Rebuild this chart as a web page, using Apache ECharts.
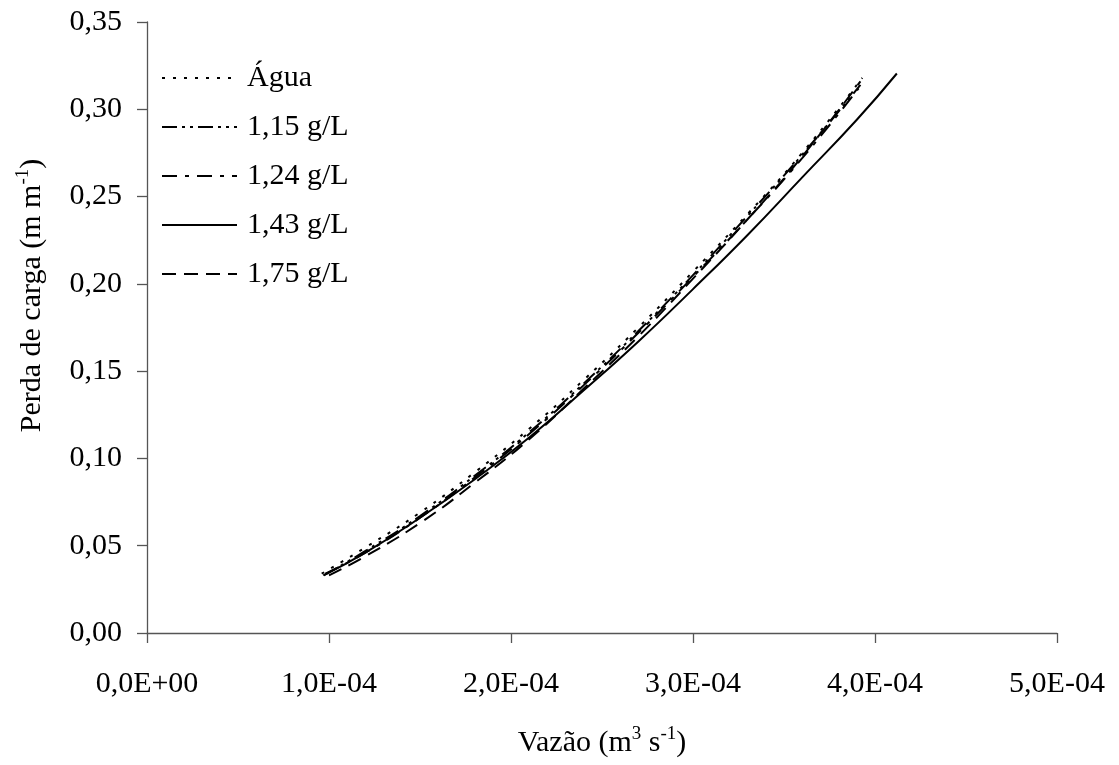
<!DOCTYPE html>
<html>
<head>
<meta charset="utf-8">
<title>Perda de carga x Vazão</title>
<script src="https://cdn.jsdelivr.net/npm/echarts@6/dist/echarts.min.js"></script>
<style>
  html, body { margin: 0; padding: 0; background: #ffffff; }
  #chart { width: 1119px; height: 765px; }
</style>
</head>
<body>
<div id="chart"></div>
<script>
// values: [vazão m3/s, perda de carga m/m]
const agua = [[0.96e-4, 0.034], [1.2e-4, 0.049], [1.5e-4, 0.069], [1.8e-4, 0.092], [2.1e-4, 0.117], [2.4e-4, 0.145], [2.7e-4, 0.175], [3.0e-4, 0.207], [3.3e-4, 0.240], [3.6e-4, 0.275], [3.93e-4, 0.318]];
const c115 = [[0.97e-4, 0.033], [1.2e-4, 0.047], [1.5e-4, 0.067], [1.8e-4, 0.090], [2.1e-4, 0.115], [2.4e-4, 0.143], [2.7e-4, 0.173], [3.0e-4, 0.205], [3.3e-4, 0.239], [3.6e-4, 0.274], [3.92e-4, 0.314]];
const c124 = [[0.98e-4, 0.034], [1.2e-4, 0.046], [1.5e-4, 0.066], [1.8e-4, 0.089], [2.1e-4, 0.114], [2.4e-4, 0.142], [2.7e-4, 0.172], [3.0e-4, 0.204], [3.3e-4, 0.237], [3.6e-4, 0.272], [3.91e-4, 0.312]];
const c143 = [[0.97e-4, 0.033], [1.2e-4, 0.046], [1.5e-4, 0.066], [1.8e-4, 0.088], [2.1e-4, 0.112], [2.4e-4, 0.139], [2.7e-4, 0.167], [3.0e-4, 0.197], [3.3e-4, 0.228], [3.6e-4, 0.261], [3.9e-4, 0.294], [4.12e-4, 0.3205]];
const c175 = [[1.0e-4, 0.033], [1.2e-4, 0.044], [1.5e-4, 0.063], [1.8e-4, 0.086], [2.1e-4, 0.111], [2.4e-4, 0.140], [2.7e-4, 0.170], [3.0e-4, 0.203], [3.3e-4, 0.237], [3.6e-4, 0.273], [3.92e-4, 0.316]];

const seriesNames = ["Água", "1,15 g/L", "1,24 g/L", "1,43 g/L", "1,75 g/L"];
const xTickLabels = ["0,0E+00", "1,0E-04", "2,0E-04", "3,0E-04", "4,0E-04", "5,0E-04"];
const yTickLabels = ["0,00", "0,05", "0,10", "0,15", "0,20", "0,25", "0,30", "0,35"];

const FONT = "'Liberation Serif', 'Times New Roman', serif";
const FONT_SIZE = 30;
const AXIS_COLOR = "#555555";

const dashes = {
  "Água": [3, 8],
  "1,15 g/L": [15, 5, 3, 5, 3, 5],
  "1,24 g/L": [15, 8, 4, 8],
  "1,43 g/L": "solid",
  "1,75 g/L": [14, 8],
};

function makeSeries(name, data) {
  return {
    name: name,
    type: "line",
    data: data,
    smooth: true,
    symbol: "none",
    showSymbol: false,
    lineStyle: { color: "#000000", width: 2, type: dashes[name] },
    itemStyle: { color: "#000000" },
  };
}

const titleRich = {
  t: { fontFamily: FONT, fontSize: FONT_SIZE, color: "#000000", lineHeight: 36 },
  s: { fontFamily: FONT, fontSize: 19, color: "#000000", lineHeight: 36, verticalAlign: "top", padding: [0, 0, 16, 0] },
};

const chart = echarts.init(document.getElementById("chart"));
chart.setOption({
  animation: false,
  backgroundColor: "#ffffff",
  textStyle: { fontFamily: FONT, color: "#000000" },
  grid: { left: 147, right: 62, top: 22, bottom: 127, containLabel: false },
  legend: {
    orient: "vertical",
    left: 161,
    top: 63,
    padding: 0,
    itemWidth: 75,
    itemHeight: 20,
    itemGap: 19,
    data: seriesNames,
    // hide the marker ECharts puts in the middle of line legend icons
    itemStyle: { color: "rgba(0,0,0,0)", borderWidth: 0, opacity: 0 },
    textStyle: { fontFamily: FONT, fontSize: FONT_SIZE, color: "#000000", lineHeight: 30, padding: [0, 0, 0, 5] },
  },
  xAxis: {
    type: "value",
    min: 0,
    max: 5e-4,
    interval: 1e-4,
    name: "{t|Vazão (m}{s|3}{t| s}{s|-1}{t|)}",
    nameLocation: "middle",
    nameGap: 92,
    nameTextStyle: { rich: titleRich },
    axisLine: { lineStyle: { color: AXIS_COLOR, width: 1.3 } },
    axisTick: { inside: false, length: 10, lineStyle: { color: AXIS_COLOR, width: 1.3 } },
    splitLine: { show: false },
    axisLabel: {
      margin: 36,
      fontFamily: FONT,
      fontSize: FONT_SIZE,
      color: "#000000",
      formatter: (v) => xTickLabels[Math.round(v / 1e-4)],
    },
  },
  yAxis: {
    type: "value",
    min: 0,
    max: 0.35,
    interval: 0.05,
    name: "{t|Perda de carga (m m}{s|-1}{t|)}",
    nameLocation: "middle",
    nameRotate: 90,
    nameGap: 97,
    nameTextStyle: { rich: titleRich, padding: [0, 0, 0, 64] },
    axisLine: { show: true, lineStyle: { color: AXIS_COLOR, width: 1.3 } },
    axisTick: { show: true, inside: false, length: 10, lineStyle: { color: AXIS_COLOR, width: 1.3 } },
    splitLine: { show: false },
    axisLabel: {
      margin: 25,
      fontFamily: FONT,
      fontSize: FONT_SIZE,
      color: "#000000",
      formatter: (v) => yTickLabels[Math.round(v / 0.05)],
    },
  },
  series: [
    makeSeries("Água", agua),
    makeSeries("1,15 g/L", c115),
    makeSeries("1,24 g/L", c124),
    makeSeries("1,43 g/L", c143),
    makeSeries("1,75 g/L", c175),
  ],
});
</script>
</body>
</html>
